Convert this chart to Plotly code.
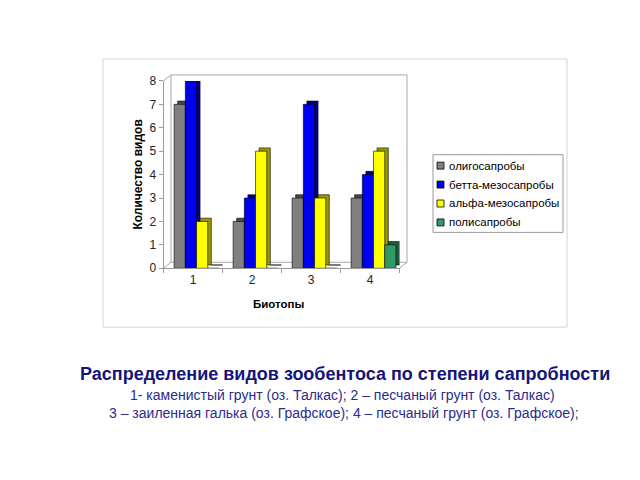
import plotly.graph_objects as go

categories = ["1", "2", "3", "4"]
series_names = ["олигосапробы", "бетта-мезосапробы", "альфа-мезосапробы", "полисапробы"]
oligo = [7, 2, 3, 3]
beta = [8, 3, 7, 4]
alpha = [2, 5, 3, 5]
poly = [0, 0, 0, 1]
y_ticks = [0, 1, 2, 3, 4, 5, 6, 7, 8]

values = [oligo, beta, alpha, poly]
front_colors = ["#808080", "#0000F0", "#FFFF00", "#339966"]
side_colors = ["#4a4a4a", "#00008a", "#9a9a00", "#1d5c3c"]
bar_offsets = [-0.32, -0.13, 0.06, 0.25]
bar_width = 0.19
depth_dx = 0.06
depth_dy = 0.14

# page body has an 8px margin; keep the document exactly 640x480
OFF = 8
W, H = 640 - 2 * OFF, 480 - 2 * OFF
# vertical calibration of the rendered page
VA, VB = 0.973, 5.1


def fx(px):
    return (px - OFF) / W


def fy(py):
    py = (py - VB) / VA
    return 1 - (py - OFF) / H


fig = go.Figure()
# depth (3D side/top) blocks drawn behind
for name, vals, col, off in zip(series_names, values, side_colors, bar_offsets):
    fig.add_trace(go.Bar(
        x=categories, y=vals, base=depth_dy, name=name + " ",
        offset=off + depth_dx, width=bar_width, showlegend=False, hoverinfo="skip",
        marker=dict(color=col, line=dict(color="#000000", width=0.6)),
    ))
# front faces
for name, vals, col, off in zip(series_names, values, front_colors, bar_offsets):
    fig.add_trace(go.Bar(
        x=categories, y=vals, name=name,
        offset=off, width=bar_width, showlegend=False,
        marker=dict(color=col, line=dict(color="#000000", width=0.6)),
    ))

fig.update_layout(
    width=W, height=H,
    paper_bgcolor="white", plot_bgcolor="rgba(0,0,0,0)",
    margin=dict(l=0, r=0, t=0, b=0),
    barmode="overlay",
    font=dict(family="Liberation Sans, Arial, sans-serif", color="#000000"),
    showlegend=False,
    xaxis=dict(
        domain=[fx(163.5), fx(399.5)], range=[-0.5, 3.5],
        showline=True, linecolor="#9a9a9a", linewidth=1,
        ticks="outside", tickson="boundaries", tickcolor="#9a9a9a", ticklen=4,
        tickfont=dict(size=12, color="#222222"),
        showgrid=False, zeroline=False,
    ),
    yaxis=dict(
        domain=[fy(267), fy(79)], range=[0, 8], tickvals=y_ticks,
        showline=True, linecolor="#9a9a9a", linewidth=1,
        ticks="outside", tickcolor="#9a9a9a", ticklen=4,
        tickfont=dict(size=12, color="#222222"),
        showgrid=False, zeroline=False,
    ),
)

line_style = dict(color="#a8a8a8", width=1)
# outer chart frame
fig.add_shape(type="rect", xref="paper", yref="paper",
              x0=fx(103), x1=fx(567), y0=fy(326), y1=fy(57),
              line=dict(color="#d4d4d4", width=1), fillcolor="rgba(0,0,0,0)", layer="below")
# 3D walls outline
fig.add_shape(type="rect", xref="paper", yref="paper",
              x0=fx(171), x1=fx(407), y0=fy(261), y1=fy(73),
              line=line_style, fillcolor="rgba(0,0,0,0)", layer="below")
for (xa, ya, xb, yb) in [(163.5, 79, 171, 73), (163.5, 267, 171, 261), (399.5, 267, 407, 261)]:
    fig.add_shape(type="line", xref="paper", yref="paper",
                  x0=fx(xa), y0=fy(ya), x1=fx(xb), y1=fy(yb), line=line_style, layer="below")

# axis titles
fig.add_annotation(xref="paper", yref="paper", x=fx(138), y=fy(173),
                   text="<b>Количество видов</b>", textangle=-90, showarrow=False,
                   font=dict(size=12, color="#000000"), xanchor="center", yanchor="middle")
fig.add_annotation(xref="paper", yref="paper", x=fx(279), y=fy(303),
                   text="<b>Биотопы</b>", showarrow=False,
                   font=dict(size=11.5, color="#000000"), xanchor="center", yanchor="middle")

# legend (box, swatches, labels)
fig.add_shape(type="rect", xref="paper", yref="paper",
              x0=fx(433), x1=fx(563), y0=fy(231), y1=fy(153),
              line=dict(color="#9a9a9a", width=1), fillcolor="white")
legend_rows = [164, 183, 202, 221]
for name, col, row in zip(series_names, front_colors, legend_rows):
    fig.add_shape(type="rect", xref="paper", yref="paper",
                  x0=fx(437), x1=fx(444), y0=fy(row + 3.5), y1=fy(row - 3.5),
                  line=dict(color="#000000", width=0.8), fillcolor=col)
    fig.add_annotation(xref="paper", yref="paper", x=fx(447), y=fy(row),
                       text=name, showarrow=False, font=dict(size=11.5, color="#000000"),
                       xanchor="left", yanchor="middle")

# caption
fig.add_annotation(xref="paper", yref="paper", x=fx(345), y=fy(373),
                   text="<b>Распределение видов зообентоса по степени сапробности</b>",
                   showarrow=False, font=dict(size=18, color="#14147a"), xanchor="center", yanchor="middle")
fig.add_annotation(xref="paper", yref="paper", x=fx(342.5), y=fy(394),
                   text="1- каменистый грунт (оз. Талкас); 2 – песчаный грунт (оз. Талкас)",
                   showarrow=False, font=dict(size=14, color="#2b2b8c"), xanchor="center", yanchor="middle")
fig.add_annotation(xref="paper", yref="paper", x=fx(343.5), y=fy(412),
                   text="3 – заиленная галька (оз. Графское); 4 – песчаный грунт (оз. Графское);",
                   showarrow=False, font=dict(size=14, color="#2b2b8c"), xanchor="center", yanchor="middle")

fig.write_html("out.html")
